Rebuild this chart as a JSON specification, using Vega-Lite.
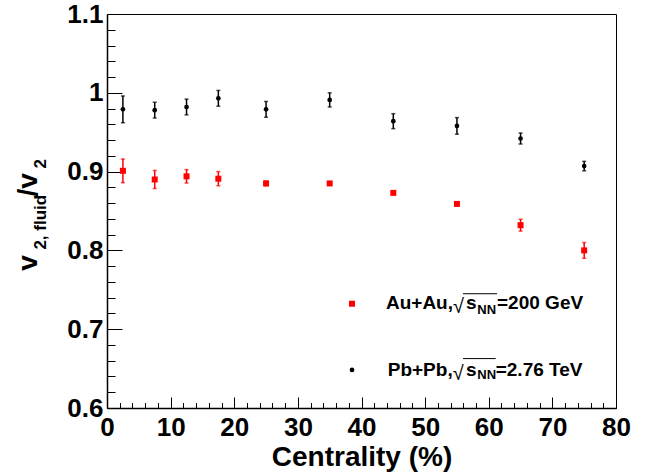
{
  "$schema": "https://vega.github.io/schema/vega-lite/v6.json",
  "autosize": {"type": "none"},
  "width": 509,
  "height": 394,
  "padding": {"left": 107, "top": 14, "right": 39, "bottom": 64},
  "background": "white",
  "config": {
    "view": {"stroke": "black", "strokeWidth": 1},
    "axis": {"grid": false, "domainColor": "black", "domainWidth": 1.5, "tickColor": "black", "tickWidth": 1,
      "labelFont": "Liberation Sans", "labelFontWeight": "bold", "labelFontSize": 26, "labelColor": "black",
      "titleFont": "Liberation Sans", "titleFontWeight": "bold", "titleColor": "black"},
    "text": {"font": "Liberation Sans", "fontWeight": "bold", "color": "black"}
  },
  "resolve": {"axis": {"x": "independent", "y": "independent"}},
  "datasets": {
    "one": [{}],
    "pts": [
      {"c": 2.5, "v": 0.979, "lo": 0.962, "hi": 0.996, "s": "Pb"},
      {"c": 7.5, "v": 0.978, "lo": 0.968, "hi": 0.988, "s": "Pb"},
      {"c": 12.5, "v": 0.982, "lo": 0.972, "hi": 0.992, "s": "Pb"},
      {"c": 17.5, "v": 0.993, "lo": 0.983, "hi": 1.003, "s": "Pb"},
      {"c": 25, "v": 0.979, "lo": 0.969, "hi": 0.989, "s": "Pb"},
      {"c": 35, "v": 0.991, "lo": 0.982, "hi": 1.0, "s": "Pb"},
      {"c": 45, "v": 0.964, "lo": 0.9545, "hi": 0.9735, "s": "Pb"},
      {"c": 55, "v": 0.958, "lo": 0.9475, "hi": 0.9685, "s": "Pb"},
      {"c": 65, "v": 0.942, "lo": 0.935, "hi": 0.949, "s": "Pb"},
      {"c": 75, "v": 0.907, "lo": 0.901, "hi": 0.913, "s": "Pb"},
      {"c": 2.5, "v": 0.901, "lo": 0.886, "hi": 0.916, "s": "Au"},
      {"c": 7.5, "v": 0.89, "lo": 0.8785, "hi": 0.9015, "s": "Au"},
      {"c": 12.5, "v": 0.894, "lo": 0.8855, "hi": 0.9025, "s": "Au"},
      {"c": 17.5, "v": 0.891, "lo": 0.882, "hi": 0.9, "s": "Au"},
      {"c": 25, "v": 0.885, "lo": 0.882, "hi": 0.888, "s": "Au"},
      {"c": 35, "v": 0.885, "lo": 0.885, "hi": 0.885, "s": "Au"},
      {"c": 45, "v": 0.873, "lo": 0.873, "hi": 0.873, "s": "Au"},
      {"c": 55, "v": 0.859, "lo": 0.859, "hi": 0.859, "s": "Au"},
      {"c": 65, "v": 0.832, "lo": 0.8245, "hi": 0.8395, "s": "Au"},
      {"c": 75, "v": 0.8, "lo": 0.79, "hi": 0.81, "s": "Au"}
    ]
  },
  "layer": [
    {
      "data": {"name": "pts"},
      "mark": {"type": "rule", "strokeWidth": 1.5},
      "encoding": {
        "x": {"field": "c", "type": "quantitative",
          "scale": {"domain": [0, 80], "nice": false, "zero": false},
          "axis": {"orient": "bottom", "values": [0,2,4,6,8,10,12,14,16,18,20,22,24,26,28,30,32,34,36,38,40,42,44,46,48,50,52,54,56,58,60,62,64,66,68,70,72,74,76,78,80],
            "tickCount": 200,
            "labelExpr": "datum.value % 10 == 0 ? format(datum.value, 'd') : ''",
            "tickSize": -5.5,
            "labelPadding": 12, "labelFlush": false, "labelOverlap": false,
            "title": "Centrality (%)", "titleFontSize": 28, "titlePadding": 3}},
        "y": {"field": "lo", "type": "quantitative",
          "scale": {"domain": [0.6, 1.1], "nice": false, "zero": false},
          "axis": {"orient": "left", "values": [0.6,0.62,0.64,0.66,0.68,0.7,0.72,0.74,0.76,0.78,0.8,0.82,0.84,0.86,0.88,0.9,0.92,0.94,0.96,0.98,1.0,1.02,1.04,1.06,1.08,1.1],
            "tickCount": 200,
            "labelExpr": "abs(round(datum.value*10)-datum.value*10) < 0.001 ? format(datum.value, '.2~g') : ''",
            "tickSize": -8,
            "labelPadding": 12, "labelFlush": false, "labelOverlap": false, "title": null}},
        "y2": {"field": "hi"},
        "color": {"field": "s", "type": "nominal", "scale": {"domain": ["Au", "Pb"], "range": ["#ff0000", "#000000"]}, "legend": null}
      }
    },
    {
      "data": {"name": "pts"},
      "mark": {"type": "tick", "orient": "horizontal", "size": 4, "thickness": 1.5},
      "encoding": {
        "x": {"field": "c", "type": "quantitative",
          "axis": {"orient": "bottom", "values": [0,10,20,30,40,50,60,70,80], "tickCount": 200, "tickSize": -11, "labels": false, "domain": false, "title": null}},
        "y": {"field": "lo", "type": "quantitative",
          "axis": {"orient": "left", "values": [0.6,0.7,0.8,0.9,1.0,1.1], "tickCount": 200, "tickSize": -15, "labels": false, "domain": false, "title": null}},
        "color": {"field": "s", "type": "nominal", "legend": null}
      }
    },
    {
      "data": {"name": "pts"},
      "mark": {"type": "tick", "orient": "horizontal", "size": 4, "thickness": 1.5},
      "encoding": {
        "x": {"field": "c", "type": "quantitative", "axis": null},
        "y": {"field": "hi", "type": "quantitative", "axis": null},
        "color": {"field": "s", "type": "nominal", "legend": null}
      }
    },
    {
      "data": {"name": "pts"},
      "mark": {"type": "point", "filled": true, "opacity": 1},
      "encoding": {
        "x": {"field": "c", "type": "quantitative", "axis": null},
        "y": {"field": "v", "type": "quantitative", "axis": null},
        "color": {"field": "s", "type": "nominal", "legend": null},
        "shape": {"field": "s", "type": "nominal", "scale": {"domain": ["Au", "Pb"], "range": ["square", "circle"]}, "legend": null},
        "size": {"field": "s", "type": "nominal", "scale": {"domain": ["Au", "Pb"], "range": [36, 22]}, "legend": null}
      }
    },
    {
      "data": {"name": "one"},
      "mark": {"type": "point", "shape": "square", "filled": true, "opacity": 1, "size": 36, "color": "#ff0000"},
      "encoding": {"x": {"datum": 38.51, "axis": null}, "y": {"datum": 0.7323, "axis": null}}
    },
    {
      "data": {"name": "one"},
      "mark": {"type": "point", "shape": "circle", "filled": true, "opacity": 1, "size": 22, "color": "#000000"},
      "encoding": {"x": {"datum": 38.51, "axis": null}, "y": {"datum": 0.6483, "axis": null}}
    },
    {"data": {"name": "one"}, "mark": {"type": "text", "text": "Au+Au,", "fontSize": 19, "align": "right", "baseline": "alphabetic"},
     "encoding": {"x": {"datum": 54.38, "axis": null}, "y": {"datum": 0.726, "axis": null}}},
    {"data": {"name": "one"}, "mark": {"type": "text", "text": "√", "fontSize": 20, "fontWeight": "normal", "align": "left", "baseline": "alphabetic"},
     "encoding": {"x": {"datum": 54.38, "axis": null}, "y": {"datum": 0.721, "axis": null}}},
    {"data": {"name": "one"}, "mark": {"type": "rule", "strokeWidth": 1, "color": "black"},
     "encoding": {"x": {"datum": 55.95, "axis": null}, "x2": {"datum": 61.3}, "y": {"datum": 0.745, "axis": null}}},
    {"data": {"name": "one"}, "mark": {"type": "text", "text": "s", "fontSize": 19, "align": "left", "baseline": "alphabetic"},
     "encoding": {"x": {"datum": 56.42, "axis": null}, "y": {"datum": 0.726, "axis": null}}},
    {"data": {"name": "one"}, "mark": {"type": "text", "text": "NN", "fontSize": 13, "align": "left", "baseline": "alphabetic"},
     "encoding": {"x": {"datum": 58.2, "axis": null}, "y": {"datum": 0.7192, "axis": null}}},
    {"data": {"name": "one"}, "mark": {"type": "text", "text": "=200 GeV", "fontSize": 19, "align": "left", "baseline": "alphabetic"},
     "encoding": {"x": {"datum": 61.3, "axis": null}, "y": {"datum": 0.726, "axis": null}}},
    {"data": {"name": "one"}, "mark": {"type": "text", "text": "Pb+Pb,", "fontSize": 19, "align": "right", "baseline": "alphabetic"},
     "encoding": {"x": {"datum": 54.33, "axis": null}, "y": {"datum": 0.6407, "axis": null}}},
    {"data": {"name": "one"}, "mark": {"type": "text", "text": "√", "fontSize": 20, "fontWeight": "normal", "align": "left", "baseline": "alphabetic"},
     "encoding": {"x": {"datum": 54.33, "axis": null}, "y": {"datum": 0.6357, "axis": null}}},
    {"data": {"name": "one"}, "mark": {"type": "rule", "strokeWidth": 1, "color": "black"},
     "encoding": {"x": {"datum": 55.95, "axis": null}, "x2": {"datum": 61.09}, "y": {"datum": 0.6627, "axis": null}}},
    {"data": {"name": "one"}, "mark": {"type": "text", "text": "s", "fontSize": 19, "align": "left", "baseline": "alphabetic"},
     "encoding": {"x": {"datum": 56.42, "axis": null}, "y": {"datum": 0.6407, "axis": null}}},
    {"data": {"name": "one"}, "mark": {"type": "text", "text": "NN", "fontSize": 13, "align": "left", "baseline": "alphabetic"},
     "encoding": {"x": {"datum": 58.2, "axis": null}, "y": {"datum": 0.6365, "axis": null}}},
    {"data": {"name": "one"}, "mark": {"type": "text", "text": "=2.76 TeV", "fontSize": 19, "align": "left", "baseline": "alphabetic"},
     "encoding": {"x": {"datum": 61.09, "axis": null}, "y": {"datum": 0.6407, "axis": null}}},
    {"data": {"name": "one"}, "mark": {"type": "text", "text": "v", "fontSize": 28, "angle": 270, "align": "left", "baseline": "alphabetic"},
     "encoding": {"x": {"datum": -11.0, "axis": null}, "y": {"datum": 0.7743, "axis": null}}},
    {"data": {"name": "one"}, "mark": {"type": "text", "text": "2, fluid", "fontSize": 17, "angle": 270, "align": "left", "baseline": "alphabetic"},
     "encoding": {"x": {"datum": -9.59, "axis": null}, "y": {"datum": 0.801, "axis": null}}},
    {"data": {"name": "one"}, "mark": {"type": "text", "text": "/v", "fontSize": 28, "angle": 270, "align": "left", "baseline": "alphabetic"},
     "encoding": {"x": {"datum": -11.0, "axis": null}, "y": {"datum": 0.8685, "axis": null}}},
    {"data": {"name": "one"}, "mark": {"type": "text", "text": "2", "fontSize": 17, "angle": 270, "align": "left", "baseline": "alphabetic"},
     "encoding": {"x": {"datum": -9.59, "axis": null}, "y": {"datum": 0.904, "axis": null}}}
  ]
}
